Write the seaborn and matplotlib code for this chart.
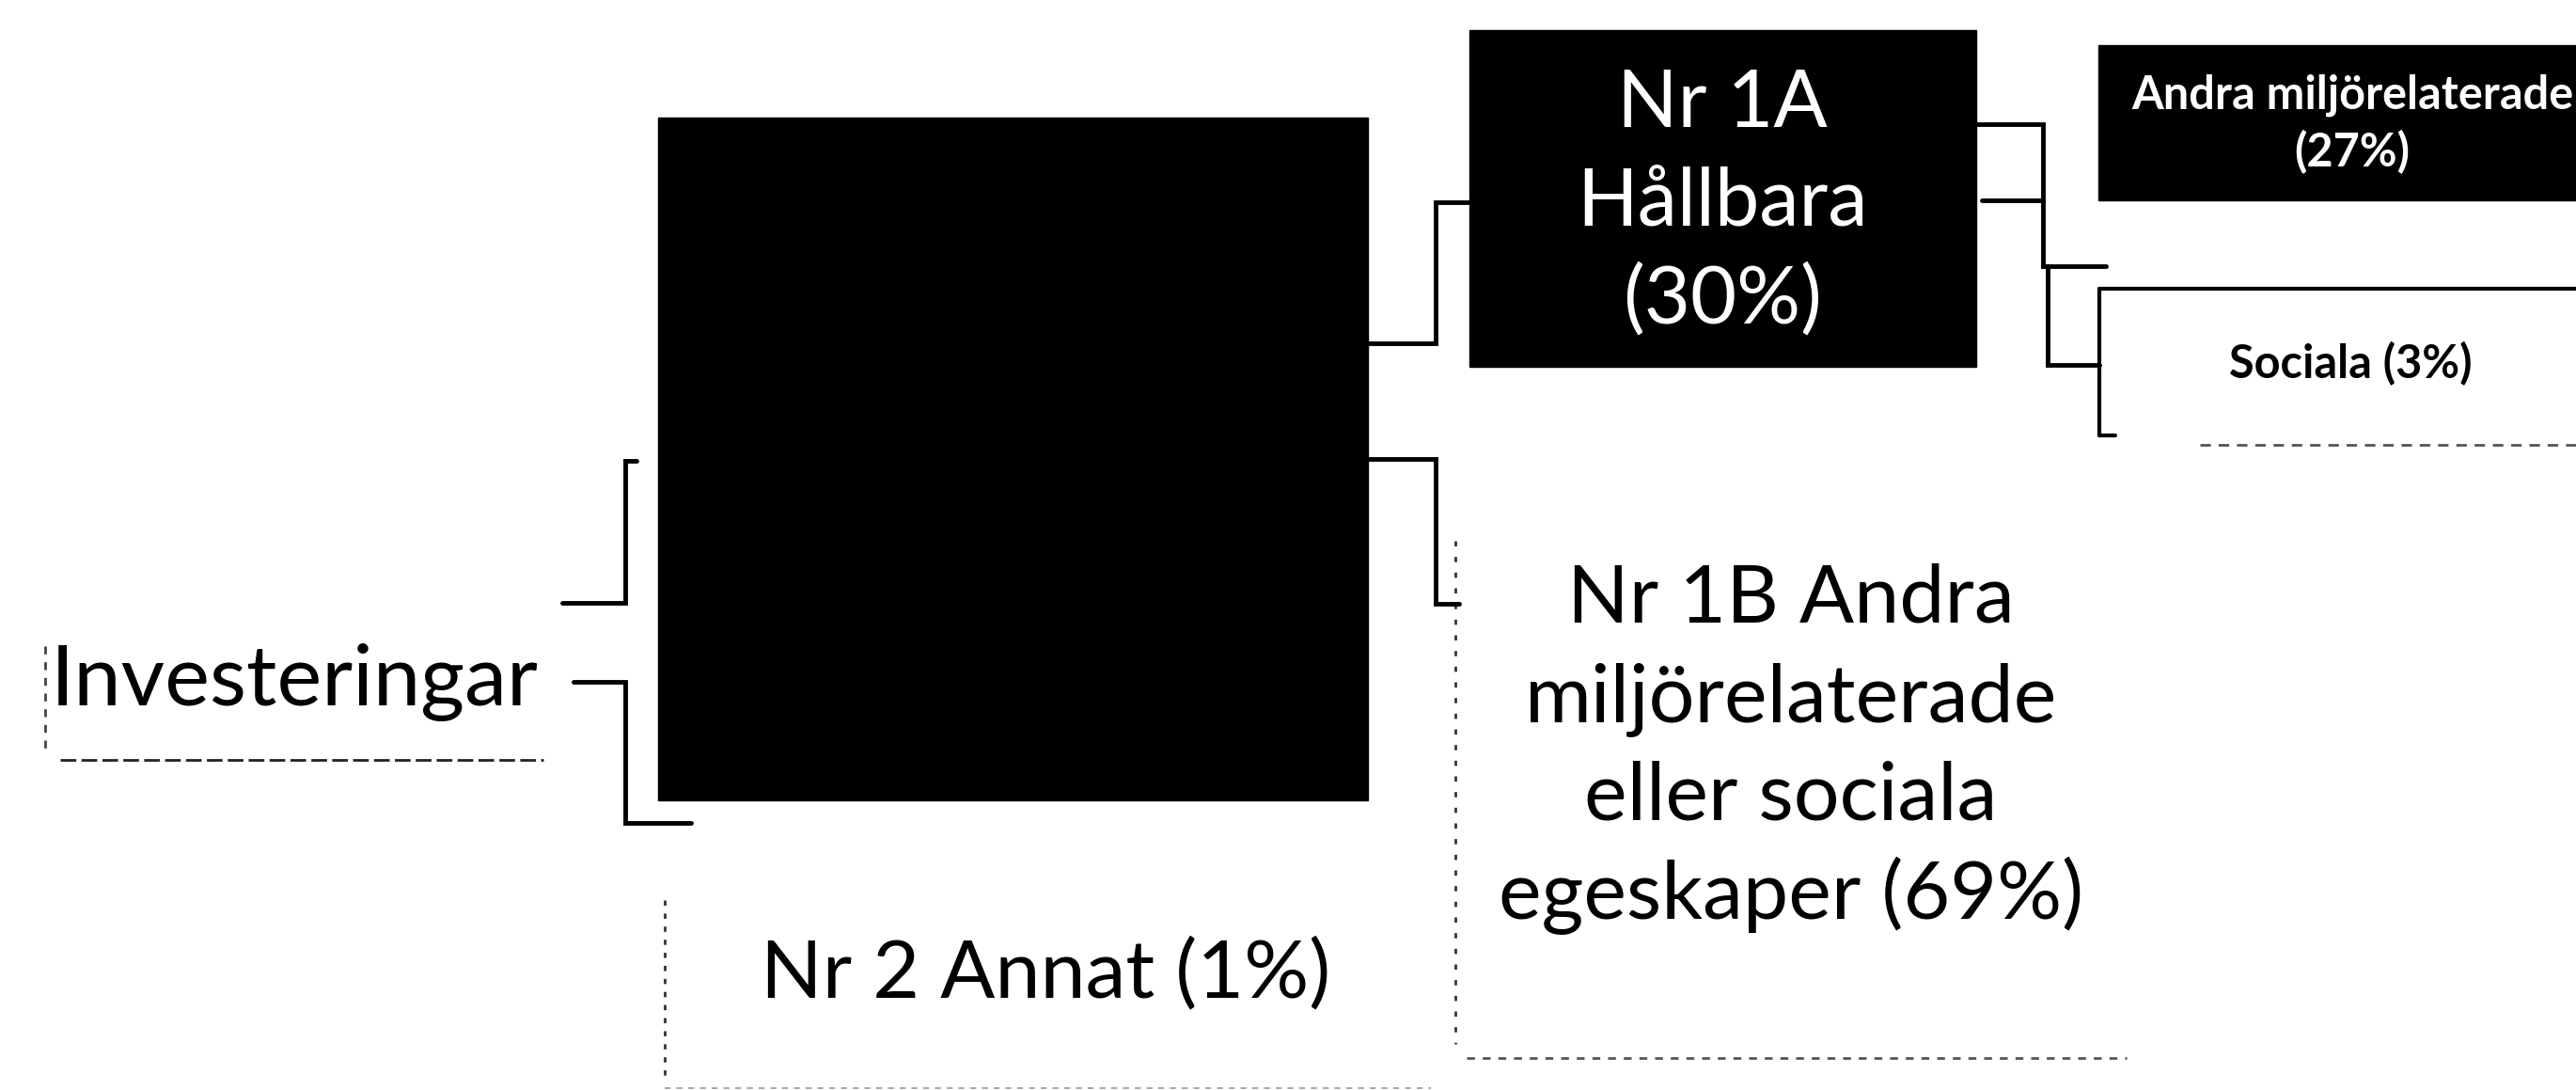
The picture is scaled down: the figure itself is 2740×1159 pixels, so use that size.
import seaborn as sns
import matplotlib.pyplot as plt
from matplotlib.patches import Rectangle

# chart data: tree of investment shares
root_label = "Investeringar"
node_names = ["Nr 1A\nHållbara", "Nr 1B Andra\nmiljörelaterade\neller sociala\negeskaper",
              "Nr 2 Annat", "Andra miljörelaterade", "Sociala"]
node_shares = [30, 69, 1, 27, 3]

# layout (pixel coords, y down): box x0, y0, x1, y1
boxes = [(1563, 32, 2102, 390), (1548, 470, 2262, 1125), (707, 957, 1522, 1157),
         (2232, 48, 2770, 213), (2233, 307, 2770, 470)]
big_box = (700, 125, 1455, 851)
fills = ["black", "white", "white", "black", "white"]
text_col = ["white", "black", "black", "white", "black"]
share_sep = ["\n", " ", " ", "\n", " "]
text_x = [1832, 1905, 1112, 2502, 2500]
first_baseline = [135, 662, 1060, 115, 402]
line_step = [104, 105, 105, 62, 60]
text_size = [61, 62, 62, 35, 35]
text_weight = ["normal", "normal", "normal", "bold", "bold"]

connectors = [
    [(598, 641), (665, 641), (665, 490), (677, 490)],
    [(610, 725), (665, 725), (665, 875), (735, 875)],
    [(1455, 365), (1527, 365), (1527, 215), (1563, 215)],
    [(1455, 488), (1527, 488), (1527, 642), (1552, 642)],
    [(2102, 132), (2173, 132), (2173, 283), (2240, 283)],
    [(2108, 213), (2173, 213)],
    [(2178, 283), (2178, 388), (2233, 388)],
]

sns.set_theme(style="white")
plt.rcParams['font.family'] = ['Lato', 'DejaVu Sans']

fig = plt.figure(figsize=(27.4, 11.59), dpi=100)
ax = fig.add_axes([0, 0, 1, 1])
ax.set_xlim(0, 2740)
ax.set_ylim(1159, 0)
ax.axis('off')

# big black root box
x0, y0, x1, y1 = big_box
ax.add_patch(Rectangle((x0, y0), x1 - x0, y1 - y0, facecolor="black", edgecolor="black"))

for i, (name, share) in enumerate(zip(node_names, node_shares)):
    x0, y0, x1, y1 = boxes[i]
    if fills[i] == "black":
        ax.add_patch(Rectangle((x0, y0), x1 - x0, y1 - y0, facecolor="black", edgecolor="black"))
    label = f"{name}{share_sep[i]}({share}%)"
    for k, line in enumerate(label.split("\n")):
        ax.text(text_x[i], first_baseline[i] + k * line_step[i], line, color=text_col[i],
                fontsize=text_size[i], fontweight=text_weight[i], ha="center", va="baseline",
                clip_on=True)

# faint scanned borders of the white boxes
x0, y0, x1, y1 = boxes[1]
ax.plot([x0, x0], [575, 1110], color="#333333", lw=2, ls=(0, (2, 4)))
ax.plot([x0 + 12, x1], [y1, y1], color="#555555", lw=2, ls=(0, (3, 3)))
x0, y0, x1, y1 = boxes[2]
ax.plot([x0, x0], [y0, y1 - 7], color="#333333", lw=2, ls=(0, (2, 3)))
ax.plot([x0, x1], [y1, y1], color="#aaaaaa", lw=1.5, ls=(0, (3, 3)))

# Sociala box: solid top/left edges, ragged bottom
sx0, sy0, sx1, sy1 = boxes[4]
ax.plot([sx0, 2740], [sy0, sy0], color="black", lw=3)
ax.plot([sx0, sx0], [sy0, 463], color="black", lw=3)
ax.plot([sx0, sx0 + 17], [463, 463], color="black", lw=3)
ax.plot([2340, 2740], [473, 473], color="#555555", lw=2, ls=(0, (4, 3)))

# root label with its dashed frame
ax.text(54, 750, root_label, fontsize=65, ha="left", va="baseline", color="black")
ax.plot([64, 578], [808, 808], color="#222222", lw=2, ls=(0, (6, 2)))
ax.plot([48, 48], [687, 803], color="#444444", lw=2, ls=(0, (3, 3)))

for path in connectors:
    xs, ys = zip(*path)
    ax.plot(xs, ys, color="black", lw=3.5, solid_joinstyle="miter")

fig.savefig("out.png", dpi=100, facecolor="white")
